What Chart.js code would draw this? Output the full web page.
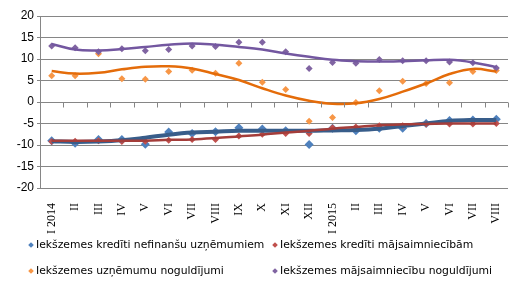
<!DOCTYPE html>
<html>
<head>
<meta charset="utf-8">
<script src="https://cdn.jsdelivr.net/npm/chart.js@4"></script>
<style>
  body { margin: 0; background: #fff; }
  #wrap { position: relative; width: 525px; height: 295px; }
  #legenda { position: absolute; left: 0; top: 0; width: 525px; height: 295px; pointer-events: none;
             font-family: "DejaVu Sans", sans-serif; font-size: 10.8px; color: #000; }
  .item { position: absolute; white-space: nowrap; line-height: 14px; }
  .rombs { display: inline-block; width: 4px; height: 4px; transform: rotate(45deg); margin-right: 3px; vertical-align: 1px; }
</style>
</head>
<body>
<div id="wrap">
  <canvas id="myChart" width="525" height="295"></canvas>
  <div id="legenda">
    <div class="item" style="left:29px; top:238px;"><span class="rombs" style="background:#4F81BD"></span>Iekšzemes kredīti nefinanšu uzņēmumiem</div>
    <div class="item" style="left:273px; top:238px;"><span class="rombs" style="background:#C0504D"></span>Iekšzemes kredīti mājsaimniecībām</div>
    <div class="item" style="left:29px; top:264px;"><span class="rombs" style="background:#F79646"></span>Iekšzemes uzņēmumu noguldījumi</div>
    <div class="item" style="left:273px; top:264px;"><span class="rombs" style="background:#8064A2"></span>Iekšzemes mājsaimniecību noguldījumi</div>
  </div>
</div>
<script>
    var labels = ['I 2014', 'II', 'III', 'IV', 'V', 'VI', 'VII', 'VIII', 'IX', 'X', 'XI', 'XII',
                  'I 2015', 'II', 'III', 'IV', 'V', 'VI', 'VII', 'VIII'];

    // faktiskie dati
    var krediti_uzn = [-9.0, -9.6, -8.7, -8.7, -9.8, -7.0, -7.3, -6.9, -6.0, -6.3, -6.7, -9.9,
                       -6.1, -6.7, -6.1, -6.1, -5.0, -4.3, -4.2, -4.0];
    var krediti_maj = [-9.2, -9.1, -9.0, -9.2, -9.1, -8.9, -8.7, -8.7, -7.9, -7.5, -7.3, -7.3,
                       -6.0, -5.8, -5.5, -5.5, -5.1, -5.1, -5.1, -5.0];
    var nogul_uzn = [6.1, 6.1, 11.2, 5.4, 5.3, 7.1, 7.4, 6.7, 9.0, 4.6, 2.9, -4.5,
                     -3.6, -0.1, 2.6, 4.8, 4.3, 4.5, 7.1, 7.3];
    var nogul_maj = [13.0, 12.6, 11.7, 12.4, 11.9, 12.2, 13.0, 12.9, 13.9, 13.9, 11.7, 7.8,
                     9.2, 9.0, 9.9, 9.6, 9.6, 9.3, 9.1, 7.9];

    // tendences līnijas (nolasītas no attēla)
    var trend_kred_uzn = [-9.1, -9.3, -9.2, -8.9, -8.3, -7.6, -7.1, -6.9, -6.7, -6.7, -6.7, -6.7,
                          -6.6, -6.5, -6.2, -5.6, -5.0, -4.4, -4.2, -4.2];
    var trend_kred_maj = [-9.0, -9.0, -9.0, -9.0, -9.0, -8.8, -8.7, -8.4, -8.0, -7.6, -7.1, -6.7,
                          -6.2, -5.8, -5.4, -5.2, -5.1, -5.0, -5.0, -5.0];
    var trend_nog_uzn = [7.2, 6.6, 6.8, 7.6, 8.2, 8.3, 7.8, 6.5, 5.1, 3.2, 1.5, 0.3,
                         -0.4, -0.3, 0.7, 2.4, 4.3, 6.5, 7.7, 7.1];
    var trend_nog_maj = [13.5, 12.2, 12.0, 12.3, 12.8, 13.3, 13.6, 13.3, 12.8, 12.2, 11.3, 10.5,
                         9.8, 9.5, 9.4, 9.5, 9.7, 9.8, 9.2, 8.1];

    var pelek = '#868686';

    function punkti(data, krasa, r) {
        return { data: data, showLine: false, pointStyle: 'rectRot', pointRadius: r,
                 pointBackgroundColor: krasa, pointBorderColor: krasa, pointBorderWidth: 0,
                 borderColor: krasa, backgroundColor: krasa };
    }
    function trends(data, krasa, w) {
        return { data: data, pointRadius: 0, borderColor: krasa, borderWidth: w, fill: false,
                 tension: 0.4 };
    }

    // ass pie nulles ar iedaļām uz leju
    var nullesAss = {
        id: 'nullesAss',
        afterDatasetsDraw: function(chart) {
            var x = chart.scales.x, y = chart.scales.y, c = chart.ctx;
            var y0 = Math.round(y.getPixelForValue(0)) + 0.5;
            c.save();
            c.strokeStyle = pelek;
            c.lineWidth = 1;
            c.beginPath();
            for (var i = 0; i <= labels.length; i++) {
                var px;
                if (i === 0) px = x.left;
                else if (i === labels.length) px = x.right;
                else px = (x.getPixelForValue(i - 1) + x.getPixelForValue(i)) / 2;
                px = Math.round(px) + 0.5;
                c.moveTo(px, y0);
                c.lineTo(px, y0 + 5);
            }
            c.stroke();
            c.restore();
        }
    };

    var ctx = document.getElementById('myChart').getContext('2d');
    var myChart = new Chart(ctx, {
        type: 'line',
        data: {
            labels: labels,
            datasets: [
                trends(trend_nog_maj, '#7357A0', 2.5),
                trends(trend_nog_uzn, '#E46C0A', 2.5),
                trends(trend_kred_maj, '#A43D3A', 2.5),
                trends(trend_kred_uzn, '#385D8A', 4),
                punkti(nogul_maj, '#8064A2', 3.5),
                punkti(nogul_uzn, '#F79646', 3.5),
                punkti(krediti_maj, '#C0504D', 3.5),
                punkti(krediti_uzn, '#4F81BD', 4.5)
            ]
        },
        options: {
            responsive: false,
            animation: false,
            layout: { padding: { top: 16, right: 17, left: 0, bottom: 0 } },
            plugins: { legend: { display: false }, tooltip: { enabled: false } },
            scales: {
                x: {
                    offset: true,
                    grid: { display: false },
                    border: { display: false },
                    ticks: { autoSkip: false, minRotation: 90, maxRotation: 90, padding: 7,
                             color: '#000', font: { family: 'Liberation Serif', size: 12 } },
                    afterFit: function(scale) { scale.height = 107; }
                },
                y: {
                    min: -20,
                    max: 20,
                    ticks: { stepSize: 5, color: '#000', padding: 3,
                             font: { family: 'Liberation Sans', size: 12 } },
                    grid: { color: pelek, tickLength: 3 },
                    border: { color: pelek },
                    afterFit: function(scale) { scale.width = 40; }
                }
            }
        },
        plugins: [nullesAss]
    });
</script>
</body>
</html>
